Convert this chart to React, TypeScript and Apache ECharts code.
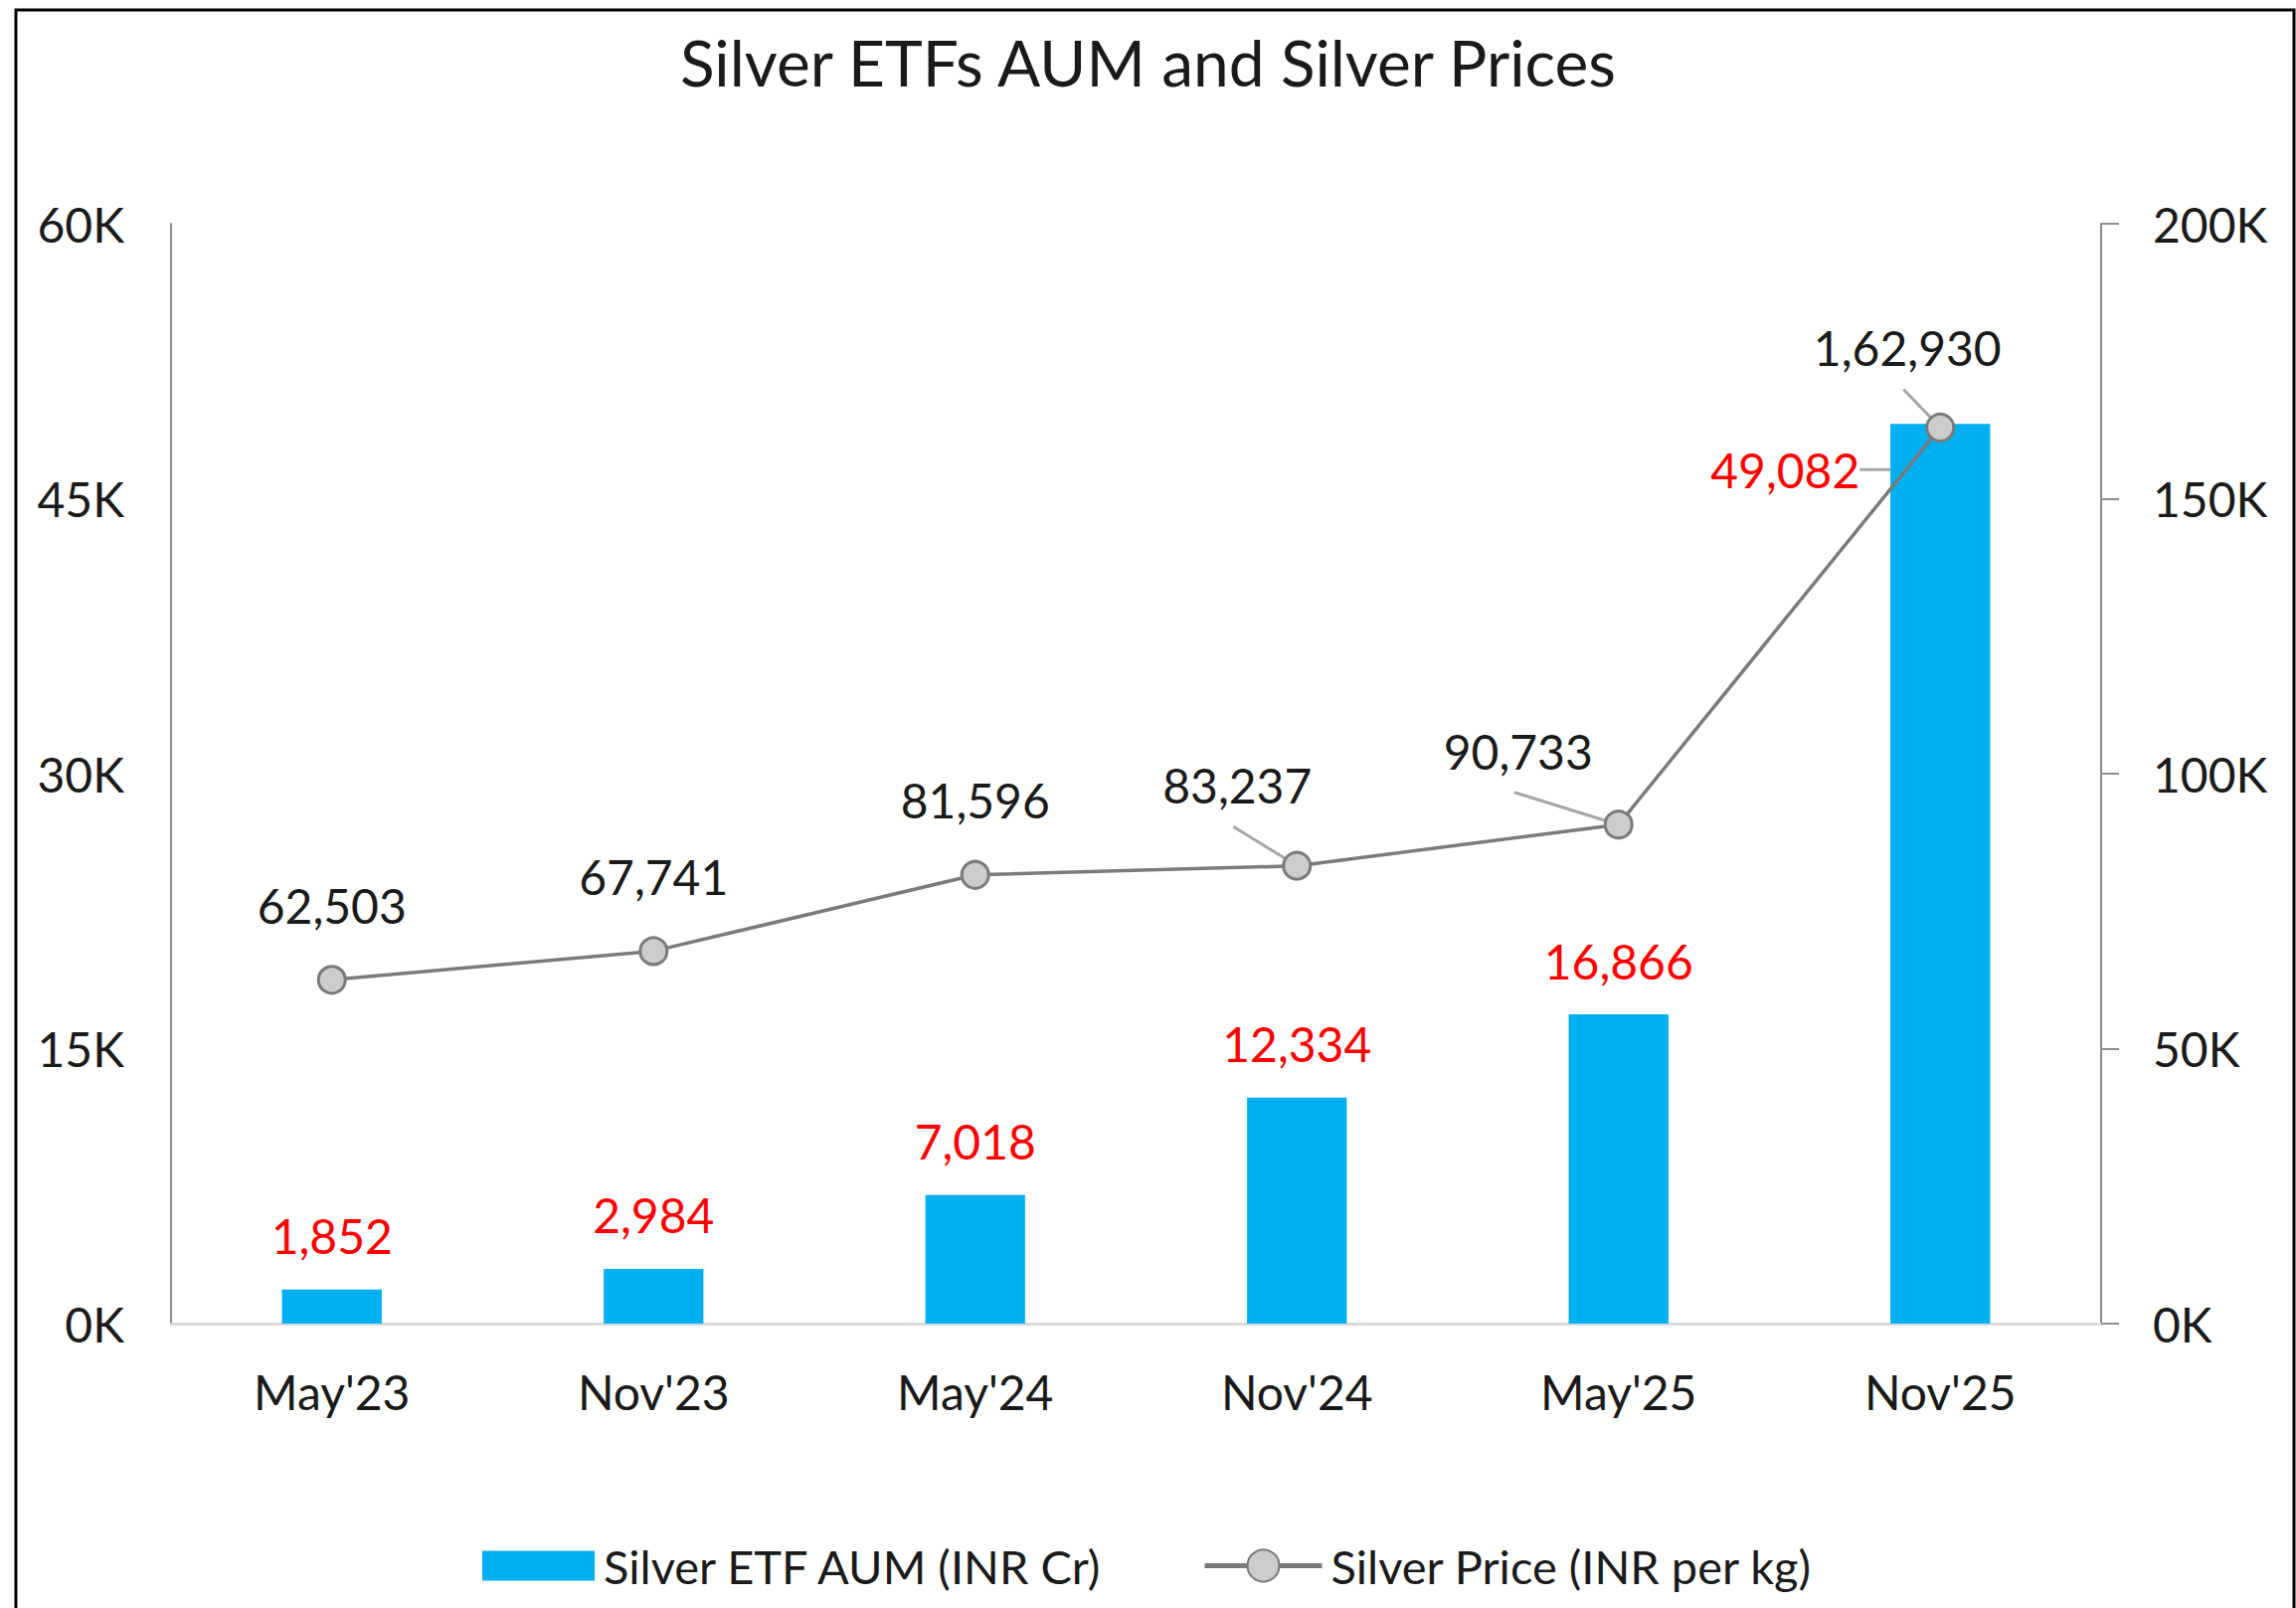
import React, { useEffect, useRef } from "react";
import * as echarts from "echarts";

const categories = ["May'23", "Nov'23", "May'24", "Nov'24", "May'25", "Nov'25"];
const aumValues = [1852, 2984, 7018, 12334, 16866, 49082];
const priceValues = [62503, 67741, 81596, 83237, 90733, 162930];
const leftTicks = { min: 0, max: 60000, interval: 15000 };
const rightTicks = { min: 0, max: 200000, interval: 50000 };

const SERIES_AUM = "Silver ETF AUM (INR Cr)";
const SERIES_PRICE = "Silver Price (INR per kg)";

// label nudges (pixels) for labels moved away from their default place
const barLabelShift: Record<number, { dx: number; dy: number }> = {
  5: { dx: -156, dy: 100 },
};
const lineLabelShift: Record<number, { dx: number; dy: number }> = {
  3: { dx: -60, dy: -6 },
  4: { dx: -101, dy: 1 },
  5: { dx: -33, dy: -5 },
};

const FONT = "Lato, 'Noto Sans', sans-serif";
const LABEL_SIZE = 48;
const LINE_LABEL_DIST = 36;
const SYMBOL_SIZE = 27;

function inr(n: number): string {
  const s = String(Math.round(n));
  if (s.length <= 3) return s;
  const last3 = s.slice(-3);
  let rest = s.slice(0, -3);
  rest = rest.replace(/\B(?=(\d{2})+(?!\d))/g, ",");
  return rest + "," + last3;
}

export default function App() {
  const ref = useRef<HTMLDivElement>(null);
  useEffect(() => {
    document.body.style.margin = "0";
    const chart = echarts.init(ref.current!, undefined, { renderer: "svg" });
    const legendText = { fontFamily: FONT, fontSize: 47, color: "#1a1a1a", padding: [0, 0, 0, 4] };
    chart.setOption({
      animation: false,
      backgroundColor: "#ffffff",
      textStyle: { fontFamily: FONT },
      title: {
        text: "Silver ETFs AUM and Silver Prices",
        left: "center",
        top: 25,
        textStyle: { fontFamily: FONT, fontSize: 64, fontWeight: "normal", color: "#1a1a1a" },
      },
      graphic: [
        {
          type: "rect",
          shape: { x: 16, y: 10, width: 2291, height: 1700 },
          style: { fill: "none", stroke: "#000000", lineWidth: 3 },
          silent: true,
        },
      ],
      legend: [
        {
          left: 480,
          top: 1546,
          itemWidth: 113,
          itemHeight: 30,
          textStyle: legendText,
          data: [{ name: SERIES_AUM, icon: "rect" }],
        },
        {
          left: 1204,
          top: 1546,
          itemWidth: 118,
          itemHeight: 40,
          lineStyle: { width: 5 },
          textStyle: legendText,
          data: [{ name: SERIES_PRICE }],
        },
      ],
      grid: { left: 172, right: 196, top: 225, bottom: 286, containLabel: false },
      xAxis: {
        type: "category",
        data: categories,
        axisLine: { show: true, lineStyle: { color: "#d9d9d9", width: 3 } },
        axisTick: { show: false },
        axisLabel: { fontFamily: FONT, fontSize: 48, color: "#1a1a1a", margin: 44 },
      },
      yAxis: [
        {
          type: "value",
          min: leftTicks.min,
          max: leftTicks.max,
          interval: leftTicks.interval,
          splitLine: { show: false },
          axisLine: { show: true, lineStyle: { color: "#8c8c8c", width: 2 } },
          axisTick: { show: false },
          axisLabel: {
            fontFamily: FONT,
            fontSize: 48,
            color: "#1a1a1a",
            margin: 47,
            formatter: (v: number) => v / 1000 + "K",
          },
        },
        {
          type: "value",
          position: "right",
          min: rightTicks.min,
          max: rightTicks.max,
          interval: rightTicks.interval,
          splitLine: { show: false },
          axisLine: { show: true, lineStyle: { color: "#8c8c8c", width: 2 } },
          axisTick: { show: true, length: 18, lineStyle: { color: "#8c8c8c", width: 2 } },
          axisLabel: {
            fontFamily: FONT,
            fontSize: 48,
            color: "#1a1a1a",
            margin: 52,
            formatter: (v: number) => v / 1000 + "K",
          },
        },
      ],
      series: [
        {
          name: SERIES_AUM,
          type: "bar",
          yAxisIndex: 0,
          barWidth: "31%",
          itemStyle: { color: "#00b0f0" },
          data: aumValues.map((v, i) =>
            barLabelShift[i]
              ? { value: v, labelLine: { show: true, lineStyle: { color: "#a6a6a6", width: 3 } } }
              : v
          ),
          label: {
            show: true,
            position: "top",
            distance: 30,
            fontFamily: FONT,
            fontSize: LABEL_SIZE,
            color: "#ff0000",
            formatter: (p: any) => inr(p.value),
          },
          labelLayout: (p: any) => barLabelShift[p.dataIndex] || {},
          z: 2,
        },
        {
          name: SERIES_PRICE,
          type: "line",
          yAxisIndex: 1,
          symbol: "circle",
          symbolSize: SYMBOL_SIZE,
          lineStyle: { color: "#7a7a7a", width: 3.5 },
          itemStyle: { color: "#cccccc", borderColor: "#7a7a7a", borderWidth: 3 },
          data: priceValues,
          label: {
            show: true,
            position: "top",
            distance: LINE_LABEL_DIST,
            fontFamily: FONT,
            fontSize: LABEL_SIZE,
            color: "#1a1a1a",
            formatter: (p: any) => inr(p.value),
          },
          labelLayout: (p: any) => lineLabelShift[p.dataIndex] || {},
          z: 3,
        },
        {
          // leader lines from the moved price labels to their markers
          name: "leaders",
          type: "custom",
          yAxisIndex: 1,
          silent: true,
          z: 3,
          data: priceValues.map((v, i) => [i, v]),
          renderItem: (params: any, api: any) => {
            const i = params.dataIndex;
            const s = lineLabelShift[i];
            if (!s) return { type: "group", children: [] };
            const p = api.coord([api.value(0), api.value(1)]);
            const lx = p[0] + s.dx;
            const ly = p[1] - (LINE_LABEL_DIST + SYMBOL_SIZE / 2 + LABEL_SIZE / 2) + s.dy;
            const sx = lx - 4;
            const sy = ly + 40;
            const vx = sx - p[0];
            const vy = sy - p[1];
            const len = Math.sqrt(vx * vx + vy * vy);
            const r = SYMBOL_SIZE / 2 + 1;
            return {
              type: "line",
              shape: { x1: sx, y1: sy, x2: p[0] + (vx / len) * r, y2: p[1] + (vy / len) * r },
              style: { stroke: "#a6a6a6", lineWidth: 3 },
            };
          },
        },
      ],
    });
    return () => chart.dispose();
  }, []);
  return (
    <div
      ref={ref}
      style={{ position: "absolute", left: 0, top: 0, width: 2309, height: 1617 }}
    />
  );
}
